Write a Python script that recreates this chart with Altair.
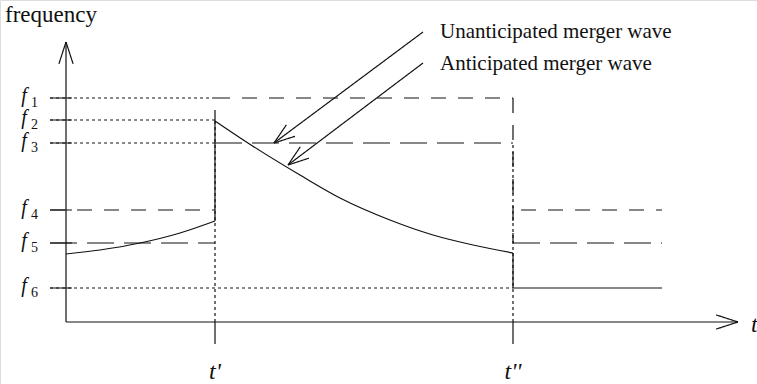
import altair as alt
import numpy as np
import pandas as pd

# Frequency levels f1..f6 and the two switching dates t', t''
level_names = ["1", "2", "3", "4", "5", "6"]
level_values = [2.24, 2.02, 1.79, 1.12, 0.79, 0.34]
t_names = ["t'", "t''"]
t_values = [1.0, 3.0]
t_end = 4.0

# Merger frequency before the wave (rising) and after it starts (decaying)
pre_t = [0.0, 0.228, 0.497, 0.765, 1.0]
pre_f = [0.68, 0.72, 0.79, 0.89, 1.01]
post_t = [1.0, 1.221, 1.570, 1.839, 2.174, 2.463, 2.732, 3.0]
post_f = [2.01, 1.79, 1.47, 1.24, 1.02, 0.87, 0.77, 0.69]

# Annotation labels and the points their arrows start from / point at
note_text = ["Unanticipated merger wave", "Anticipated merger wave"]
note_tail = [(2.396, 2.90), (2.396, 2.59)]
note_tip = [(1.396, 1.79), (1.490, 1.57)]

W, H = 757, 384
X_DOM = [-66 / 149, (W - 66) / 149]
Y_DOM = [-0.62, 3.22]
PX_X = W / (X_DOM[1] - X_DOM[0])
PX_Y = H / (Y_DOM[1] - Y_DOM[0])

FONT = "Liberation Serif"
INK = "#111111"
LW = 1.2

xs = alt.Scale(domain=X_DOM, nice=False, zero=False)
ys = alt.Scale(domain=Y_DOM, nice=False, zero=False)

left = -0.107   # where the level lines start, left of the vertical axis
tick_r = 0.04
t1, t2 = t_values
f1, f2, f3, f4, f5, f6 = level_values

segs = []


def seg(x, y, x2, y2, style):
    segs.append(dict(x=x, y=y, x2=x2, y2=y2, style=style))


# horizontal reference levels
seg(left, f1, t1, f1, "dot")
seg(t1, f1, t2, f1, "dash")
seg(left, f2, t1, f2, "dot")
seg(left, f3, t1, f3, "dot")
seg(t1, f3, t2, f3, "long")
seg(left, f4, t1, f4, "dash")
seg(t2 + 0.054, f4, t_end, f4, "dash")
seg(left, f5, t1, f5, "long")
seg(t2, f5, t_end, f5, "long")
seg(left, f6, t2, f6, "dot")
seg(t2, f6, t_end, f6, "solid")
for v in level_values:
    seg(left, v, tick_r, v, "solid")

# axes
y_top, x_tip = 2.80, 4.51
seg(0, 0, 0, y_top, "solid")
seg(0, 0, x_tip, 0, "solid")

# vertical markers at t' and t''
seg(t1, 0, t1, f2, "dot")
seg(t1, pre_f[-1], t1, 2.12, "solid")
seg(t1, -0.22, t1, 0, "solid")
seg(t2, f1, t2, f5, "dash")
seg(t2, 0, t2, f3, "dot")
seg(t2, post_f[-1], t2, f6, "solid")
seg(t2, -0.22, t2, 0, "solid")


def barbs(tail, tip, length=23.0, half_angle=18.0):
    dx = (tail[0] - tip[0]) * PX_X
    dy = (tail[1] - tip[1]) * PX_Y
    ang = np.arctan2(dy, dx)
    for s in (-1, 1):
        a = ang + s * np.radians(half_angle)
        seg(tip[0], tip[1], tip[0] + length * np.cos(a) / PX_X,
            tip[1] + length * np.sin(a) / PX_Y, "solid")


barbs((0, 0), (0, y_top))
barbs((0, 0), (x_tip, 0))
for tail, tip in zip(note_tail, note_tip):
    seg(tail[0], tail[1], tip[0], tip[1], "solid")
    barbs(tail, tip, length=22.0, half_angle=19.0)

seg_df = pd.DataFrame(segs)

dash_scale = alt.Scale(
    domain=["dot", "dash", "long", "solid"],
    range=[[3, 3], [15, 12], [27, 10], [1, 0]],
)

rules = alt.Chart(seg_df).mark_rule(color=INK, strokeWidth=LW).encode(
    x=alt.X("x:Q", scale=xs, axis=None),
    y=alt.Y("y:Q", scale=ys, axis=None),
    x2="x2:Q",
    y2="y2:Q",
    strokeDash=alt.StrokeDash("style:N", scale=dash_scale, legend=None),
)

curve_df = pd.concat([
    pd.DataFrame({"t": pre_t, "f": pre_f, "part": "pre"}),
    pd.DataFrame({"t": post_t, "f": post_f, "part": "post"}),
])
curves = alt.Chart(curve_df).mark_line(
    color=INK, strokeWidth=LW, interpolate="monotone"
).encode(
    x=alt.X("t:Q", scale=xs, axis=None),
    y=alt.Y("f:Q", scale=ys, axis=None),
    detail="part:N",
)

lev_df = pd.DataFrame({"name": level_names, "v": level_values})
f_main = alt.Chart(lev_df).mark_text(
    text="f", font=FONT, fontStyle="italic", fontSize=20, align="center",
    baseline="alphabetic", dy=4, color=INK,
).encode(x=alt.value(24), y=alt.Y("v:Q", scale=ys, axis=None))
f_sub = alt.Chart(lev_df).mark_text(
    font=FONT, fontSize=14, align="left", baseline="alphabetic", dy=9,
    color=INK,
).encode(x=alt.value(31), y=alt.Y("v:Q", scale=ys, axis=None), text="name:N")

t_df = pd.DataFrame({"name": t_names, "t": t_values})
t_labels = alt.Chart(t_df).mark_text(
    font=FONT, fontStyle="italic", fontSize=24, align="center",
    baseline="alphabetic", color=INK,
).encode(x=alt.X("t:Q", scale=xs, axis=None), y=alt.value(379), text="name:N")

freq_label = alt.Chart(pd.DataFrame({"s": ["frequency"]})).mark_text(
    font=FONT, fontSize=23, align="left", baseline="alphabetic", color=INK,
).encode(x=alt.value(5), y=alt.value(22), text="s:N")

t_axis_label = alt.Chart(pd.DataFrame({"s": ["t"]})).mark_text(
    font=FONT, fontStyle="italic", fontSize=24, align="left",
    baseline="alphabetic", color=INK,
).encode(x=alt.value(751), y=alt.value(332), text="s:N")

note_df = pd.DataFrame({"s": note_text, "py": [38, 70]})
notes = alt.Chart(note_df).mark_text(
    font=FONT, fontSize=21, align="left", baseline="alphabetic", color=INK,
).encode(x=alt.value(440), y=alt.Y("py:Q", scale=None), text="s:N")

chart = alt.layer(
    rules, curves, f_main, f_sub, t_labels, freq_label, t_axis_label, notes
).properties(
    width=W, height=H, autosize=alt.AutoSizeParams(type="none"), padding=0,
).configure_view(stroke=None).configure(background="white")

chart.save("out.html", embed_options={"renderer": "svg", "actions": False})
